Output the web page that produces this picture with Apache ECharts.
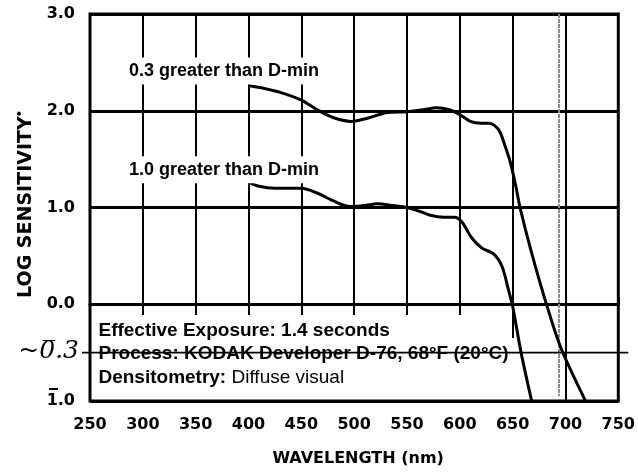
<!DOCTYPE html>
<html>
<head>
<meta charset="utf-8">
<script src="https://cdn.jsdelivr.net/npm/echarts@6/dist/echarts.min.js"></script>
<style>
  html, body { margin: 0; padding: 0; background: #fff; }
  #chart { width: 638px; height: 472px; }
</style>
</head>
<body>
<div id="chart"></div>
<script>
// wavelength (nm) / log sensitivity
const upperWave = [400, 415, 430, 450, 465, 480, 497, 515, 530, 550, 565, 578, 590, 600, 610, 620, 628, 637, 643, 648, 653, 657, 667, 682, 696, 719];
const upperLog = [2.26, 2.23, 2.19, 2.11, 2.01, 1.93, 1.89, 1.93, 1.98, 1.99, 2.01, 2.03, 2.01, 1.96, 1.89, 1.87, 1.87, 1.8, 1.63, 1.46, 1.22, 1.0, 0.57, 0.0, -0.46, -1.0];
const lowerWave = [400, 410, 425, 450, 465, 480, 496, 510, 522, 537, 550, 562, 572, 585, 595, 602, 611, 621, 632, 640, 646, 650, 658, 668];
const lowerLog = [1.26, 1.22, 1.2, 1.2, 1.15, 1.07, 1.01, 1.02, 1.04, 1.02, 1.0, 0.96, 0.92, 0.9, 0.9, 0.85, 0.69, 0.58, 0.52, 0.39, 0.15, -0.02, -0.5, -1.0];
const xTicks = [250, 300, 350, 400, 450, 500, 550, 600, 650, 700, 750];
const yTicks = [-1, 0, 1, 2, 3];
const curveNames = ['0.3 greater than D-min', '1.0 greater than D-min'];
const noteLines = [
  ['Effective Exposure:', ' 1.4 seconds'],
  ['Process:', ' KODAK Developer D-76, 68°F (20°C)'],
  ['Densitometry:', ' Diffuse visual']
];
const handMark = '~0\u0305.3';
const handLevel = -0.5;
const penLine = 694; // pencil line drawn next to 700 nm

const chart = echarts.init(document.getElementById('chart'));

// vertical grid only in the upper part, short ticks below the 0 line
const innerX = xTicks.slice(1, -1);
const gridLines = innerX.map((x) => {
  let bottom = -0.11;
  if (x === 650) bottom = -0.35;
  if (x === 700) bottom = -1;
  return [{ coord: [x, 3] }, { coord: [x, bottom] }];
});

const pair = (xs, ys) => xs.map((x, i) => [x, ys[i]]);

const option = {
  animation: false,
  backgroundColor: '#fff',
  grid: {
    left: 90, right: 18, top: 14, bottom: 70,
    show: true, borderColor: '#000', borderWidth: 3
  },
  xAxis: {
    type: 'value', min: 250, max: 750, interval: 50,
    name: 'WAVELENGTH (nm)', nameLocation: 'middle', nameGap: 50,
    nameTextStyle: { fontFamily: 'DejaVu Sans', fontWeight: 'bold', fontSize: 16, color: '#000', padding: [0, 0, 0, 8] },
    axisLine: { lineStyle: { color: '#000', width: 3 } },
    axisTick: { inside: true, length: 7, lineStyle: { color: '#000', width: 2 } },
    axisLabel: { fontFamily: 'DejaVu Sans', fontWeight: 'bold', fontSize: 16, color: '#000', margin: 16 },
    splitLine: { show: false }
  },
  yAxis: {
    type: 'value', min: -1, max: 3, interval: 1,
    name: '{a|LOG SENSITIVITY}{b|•}', nameLocation: 'middle', nameGap: 50,
    nameTextStyle: {
      padding: [0, 0, 0, 6],
      rich: {
        a: { fontFamily: 'DejaVu Sans', fontWeight: 'bold', fontSize: 19, color: '#000' },
        b: { fontSize: 15, color: '#000', padding: [0, 0, 12, 0] }
      }
    },
    axisLine: { show: false },
    axisTick: { show: false },
    axisLabel: {
      fontFamily: 'DejaVu Sans', fontWeight: 'bold', fontSize: 16, color: '#000', margin: 15,
      formatter: (v) => v.toFixed(1).replace('-', '')
    },
    splitLine: { show: true, lineStyle: { color: '#000', width: 3 } }
  },
  series: [
    {
      name: curveNames[0], type: 'line', data: pair(upperWave, upperLog),
      smooth: 0.3, showSymbol: false, lineStyle: { color: '#000', width: 3 }, z: 5,
      markLine: {
        silent: true, symbol: 'none', label: { show: false },
        lineStyle: { color: '#000', width: 2, type: 'solid' },
        data: gridLines
      }
    },
    {
      name: curveNames[1], type: 'line', data: pair(lowerWave, lowerLog),
      smooth: 0.3, showSymbol: false, lineStyle: { color: '#000', width: 3 }, z: 5,
      markLine: {
        silent: true, symbol: 'none', label: { show: false },
        lineStyle: { color: '#8a8a8a', width: 2, type: [4, 1] },
        data: [[{ coord: [penLine, 3] }, { coord: [penLine, -0.95] }]]
      }
    }
  ]
};
chart.setOption(option);

// annotations placed through the chart's own coordinate conversion
const px = (x, y) => chart.convertToPixel({ gridIndex: 0 }, [x, y]);
const handL = px(250, handLevel);
const handR = px(750, handLevel);
const lab1 = px(284, 2.41);
const lab2 = px(284, 1.39);
const note0 = px(258, -0.27);
const minus1 = px(250, -1);
const rowH = 23.5;

const labelStyle = (t) => ({
  text: t, fill: '#000', verticalAlign: 'middle', font: 'bold 18px "Liberation Sans"',
  backgroundColor: '#fff', padding: [4, 3, 5, 3]
});

const graphics = [
  {
    type: 'line', silent: true, z: 10,
    shape: { x1: handL[0] - 8, y1: handL[1], x2: handR[0] + 10, y2: handR[1] },
    style: { stroke: '#000', lineWidth: 1.6 }
  },
  {
    type: 'text', z: 10, x: handL[0] - 11, y: handL[1] - 1,
    style: {
      text: handMark, fill: '#000', align: 'right', verticalAlign: 'middle',
      font: 'italic 25px "DejaVu Serif"'
    }
  },
  {
    // bar over the 1 of the bottom tick label (bar notation)
    type: 'line', silent: true, z: 10,
    shape: { x1: minus1[0] - 41, y1: minus1[1] - 12, x2: minus1[0] - 32, y2: minus1[1] - 12 },
    style: { stroke: '#000', lineWidth: 2 }
  },
  { type: 'text', z: 10, x: lab1[0], y: lab1[1], style: labelStyle(curveNames[0]) },
  { type: 'text', z: 10, x: lab2[0], y: lab2[1], style: labelStyle(curveNames[1]) }
];
noteLines.forEach((ln, i) => {
  graphics.push({
    type: 'text', z: 9, x: note0[0], y: note0[1] + i * rowH,
    style: {
      text: '{h|' + ln[0] + '}{t|' + ln[1] + '}', verticalAlign: 'middle',
      rich: {
        h: { font: 'bold 19px "Liberation Sans"', fill: '#000' },
        t: { font: (i === 2 ? '' : 'bold ') + '19px "Liberation Sans"', fill: '#000' }
      }
    }
  });
});
chart.setOption({ graphic: graphics });
</script>
</body>
</html>
